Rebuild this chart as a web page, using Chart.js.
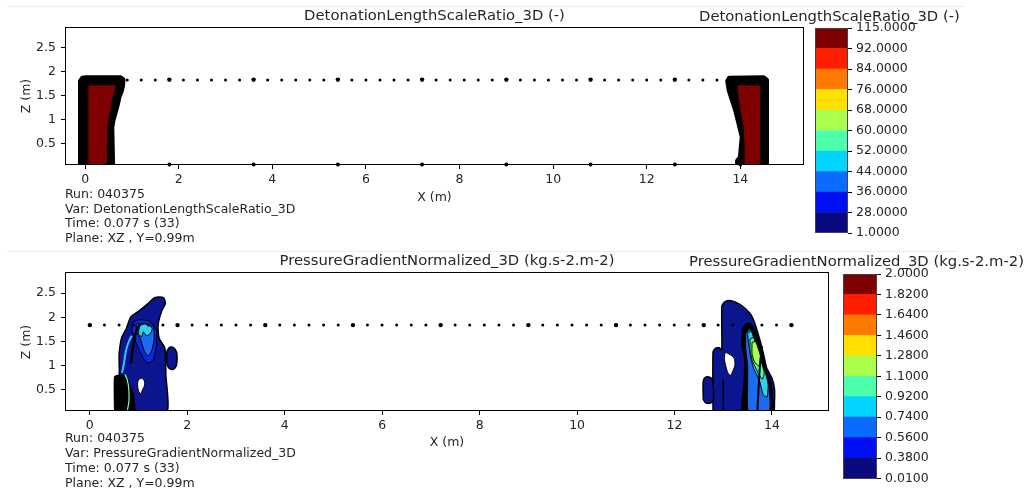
<!DOCTYPE html>
<html>
<head>
<meta charset="utf-8">
<script src="https://cdn.jsdelivr.net/npm/chart.js@4.4.0/dist/chart.umd.min.js"></script>
<style>
  body { margin: 0; background: #fff; }
  #page { position: relative; width: 1033px; height: 490px; overflow: hidden; font-family: 'DejaVu Sans', sans-serif; color: #262626; }
  #page canvas { position: absolute; }
  .txt { position: absolute; white-space: nowrap; line-height: 1.2; }
  .rule { position: absolute; height: 1px; background: #ececec; }
</style>
</head>
<body>
<div id="page">
  <div class="rule" style="left:7px;top:6px;width:958px"></div>
  <div class="rule" style="left:7px;top:251px;width:950px"></div>
  <canvas id="plotA" width="820" height="250" style="left:0;top:0"></canvas>
  <canvas id="barA" width="343" height="250" style="left:690px;top:0"></canvas>
  <canvas id="plotB" width="840" height="240" style="left:0;top:250px"></canvas>
  <canvas id="barB" width="343" height="240" style="left:690px;top:250px"></canvas>
</div>
<script>
// ---- data (x, z in metres) ----
const xTicks = [0, 2, 4, 6, 8, 10, 12, 14];
const zTicks = [0.5, 1, 1.5, 2, 2.5];

const titleA = 'DetonationLengthScaleRatio_3D (-)';
const titleB = 'PressureGradientNormalized_3D (kg.s-2.m-2)';
const infoA = ['Run: 040375', 'Var: DetonationLengthScaleRatio_3D', 'Time: 0.077 s (33)', 'Plane: XZ , Y=0.99m'];
const infoB = ['Run: 040375', 'Var: PressureGradientNormalized_3D', 'Time: 0.077 s (33)', 'Plane: XZ , Y=0.99m'];

const levelsA = ['1.0000', '28.0000', '36.0000', '44.0000', '52.0000', '60.0000', '68.0000', '76.0000', '84.0000', '92.0000', '115.0000'];
const levelsB = ['0.0100', '0.3800', '0.5600', '0.7400', '0.9200', '1.1000', '1.2800', '1.4600', '1.6400', '1.8200', '2.0000'];
const bandColors = ['#0a0a80', '#0010f5', '#0a6cff', '#00d4ff', '#4dffaa', '#aaff4d', '#ffe000', '#ff7800', '#ff1e00', '#7f0000'];

// probe line and probe markers
const probeXA = [1.8, 3.6, 5.4, 7.2, 9.0, 10.8, 12.6];
const floorXA = [1.8, 3.6, 5.4, 7.2, 9.0, 10.8, 12.6, 14.0];
const probeXB = [0, 1.8, 3.6, 5.4, 7.2, 9.0, 10.8, 12.6, 14.4];

// top plot contours
const outerLeftA = [[-0.11, 0], [-0.11, 1.80], [-0.06, 1.87], [0.02, 1.88], [0.76, 1.88], [0.82, 1.83], [0.81, 1.70], [0.78, 1.58], [0.73, 1.46], [0.71, 1.36], [0.68, 1.24], [0.64, 1.10], [0.60, 0.96], [0.58, 0.84], [0.60, 0]];
const innerLeftA = [[0.08, 0], [0.08, 1.70], [0.64, 1.70], [0.61, 1.55], [0.56, 1.40], [0.54, 1.24], [0.50, 1.06], [0.47, 0.86], [0.45, 0]];
const outerRightA = [[13.93, 0], [13.93, 0.15], [13.99, 0.22], [14.03, 0.64], [13.96, 0.92], [13.89, 1.19], [13.82, 1.40], [13.75, 1.61], [13.72, 1.80], [13.76, 1.87], [14.50, 1.88], [14.57, 1.82], [14.57, 0]];
const innerRightA = [[14.12, 0], [14.10, 0.50], [14.08, 0.85], [14.03, 1.12], [13.98, 1.40], [13.95, 1.70], [14.40, 1.70], [14.40, 0]];

// bottom plot contours, left group
const blobL = [[0.51, 0], [0.51, 0.77], [0.60, 0.80], [0.60, 1.22], [0.65, 1.57], [0.75, 1.77], [0.84, 2.01], [1.03, 2.15], [1.20, 2.29], [1.33, 2.41], [1.51, 2.41], [1.55, 2.29], [1.47, 2.12], [1.40, 1.84], [1.42, 1.57], [1.54, 1.36], [1.56, 0.80], [1.57, 0]];
const lobeL = [[1.58, 1.30], [1.64, 1.38], [1.72, 1.37], [1.78, 1.28], [1.79, 1.12], [1.77, 0.99], [1.70, 0.92], [1.62, 0.95], [1.58, 1.05]];
const holeL = [[0.99, 0.70], [1.06, 0.74], [1.12, 0.68], [1.12, 0.58], [1.08, 0.50], [1.05, 0.42], [1.00, 0.47], [0.98, 0.60]];
const blockL = [[0.51, 0], [0.51, 0.77], [0.56, 0.80], [0.70, 0.80], [0.78, 0.72], [0.84, 0.55], [0.90, 0.40], [0.92, 0.20], [0.92, 0]];
const blueL = [[0.88, 1.90], [1.02, 1.95], [1.22, 1.92], [1.36, 1.75], [1.36, 1.40], [1.30, 1.12], [1.20, 1.05], [1.10, 1.15], [1.00, 1.35], [0.92, 1.55], [0.86, 1.75]];
const dodgerL = [[0.95, 1.86], [1.12, 1.88], [1.30, 1.80], [1.32, 1.55], [1.26, 1.28], [1.18, 1.20], [1.10, 1.35], [1.04, 1.55], [0.96, 1.70]];
const cyanL = [[1.02, 1.84], [1.15, 1.86], [1.28, 1.78], [1.24, 1.66], [1.16, 1.62], [1.10, 1.70], [1.06, 1.60], [1.00, 1.66]];
const aquaLineL = [[0.76, 0.02], [0.80, 0.25], [0.80, 0.50], [0.77, 0.70], [0.72, 0.82]];
const cyanLineL = [[0.66, 0.85], [0.70, 1.05], [0.74, 1.30], [0.80, 1.50], [0.86, 1.62]];
const darkLineL = [[0.84, 1.05], [0.88, 1.35], [0.92, 1.60], [0.98, 1.78], [1.04, 1.86]];

// bottom plot contours, right group
const blobR = [[12.79, 0], [12.79, 1.28], [12.84, 1.36], [12.92, 1.37], [12.97, 1.32], [12.97, 2.22], [13.02, 2.31], [13.12, 2.35], [13.24, 2.32], [13.41, 2.22], [13.55, 2.08], [13.62, 1.95], [13.69, 1.74], [13.76, 1.50], [13.83, 1.22], [13.89, 0.95], [14.00, 0.74], [14.05, 0.53], [14.05, 0.25], [14.02, 0]];
const lobeR = [[12.59, 0.30], [12.59, 0.68], [12.64, 0.76], [12.72, 0.76], [12.78, 0.70], [12.80, 0.30], [12.75, 0.23], [12.64, 0.23]];
const holeR = [[13.04, 1.28], [13.12, 1.24], [13.22, 1.16], [13.24, 1.02], [13.20, 0.90], [13.15, 0.80], [13.09, 0.86], [13.05, 1.00], [13.02, 1.15]];
const blackR = [[13.40, 1.78], [13.48, 1.88], [13.58, 1.86], [13.66, 1.70], [13.74, 1.48], [13.81, 1.20], [13.87, 0.92], [13.96, 0.72], [14.00, 0.50], [14.00, 0.02], [13.40, 0.02], [13.42, 0.60], [13.44, 1.10], [13.38, 1.45]];
const dodgerR = [[13.46, 1.66], [13.54, 1.76], [13.62, 1.62], [13.70, 1.40], [13.77, 1.15], [13.83, 0.90], [13.92, 0.70], [13.95, 0.45], [13.94, 0.06], [13.52, 0.06], [13.50, 0.50], [13.50, 1.00], [13.46, 1.35]];
const cyanR = [[13.50, 1.66], [13.57, 1.72], [13.63, 1.56], [13.70, 1.30], [13.76, 1.05], [13.86, 0.86], [13.92, 0.62], [13.90, 0.35], [13.82, 0.40], [13.74, 0.70], [13.62, 0.95], [13.56, 1.20], [13.52, 1.45]];
const aquaR = [[13.55, 1.55], [13.62, 1.58], [13.70, 1.35], [13.78, 1.08], [13.84, 0.85], [13.80, 0.72], [13.70, 0.88], [13.60, 1.10], [13.55, 1.32]];
const ygR = [[13.59, 1.48], [13.66, 1.50], [13.73, 1.32], [13.78, 1.10], [13.72, 1.00], [13.64, 1.08], [13.59, 1.25]];
const darkLineR = [[13.70, 0.05], [13.72, 0.45], [13.74, 0.80], [13.76, 1.10], [13.80, 1.40]];
const seamR = [[13.00, 0], [13.00, 0.72]];

Chart.defaults.font.family = "'DejaVu Sans', sans-serif";
Chart.defaults.font.size = 12.5;
Chart.defaults.color = '#262626';

const BLOB = '#0b1590';

function toXY(points) {
  return points.map(p => ({ x: p[0], y: p[1] }));
}

// closed filled contour region
function region(points, fillColor, edgeColor, edgeWidth, tension) {
  return {
    data: toXY(points.concat([points[0]])),
    showLine: true,
    fill: 'shape',
    backgroundColor: fillColor,
    borderColor: edgeColor,
    borderWidth: edgeWidth,
    borderJoinStyle: 'round',
    tension: tension || 0,
    pointRadius: 0,
    clip: 0
  };
}

// open contour line
function stroke(points, color, width) {
  return {
    data: toXY(points),
    showLine: true,
    fill: false,
    borderColor: color,
    borderWidth: width,
    tension: 0.3,
    pointRadius: 0,
    clip: 0
  };
}

function dotted(x0, x1, z, gap) {
  return {
    data: [{ x: x0, y: z }, { x: x1, y: z }],
    showLine: true,
    fill: false,
    borderColor: '#000',
    borderWidth: 3,
    borderDash: [0, gap],
    borderCapStyle: 'round',
    pointRadius: 0,
    clip: false
  };
}

function markers(xs, z, r) {
  return {
    data: xs.map(x => ({ x: x, y: z })),
    showLine: false,
    pointRadius: r,
    pointBackgroundColor: '#000',
    pointBorderColor: '#000',
    pointBorderWidth: 0,
    clip: false
  };
}

// first in list = bottom layer
function layered(list) {
  return list.map((d, i) => Object.assign(d, { order: list.length - i }));
}

const framePlugin = {
  id: 'frame',
  afterDraw(chart, args, opts) {
    const a = chart.chartArea;
    const ctx = chart.ctx;
    ctx.save();
    ctx.strokeStyle = opts.color || '#000';
    ctx.lineWidth = 1;
    ctx.strokeRect(Math.round(a.left) + 0.5, Math.round(a.top) + 0.5, Math.round(a.right - a.left) - 1, Math.round(a.bottom - a.top) - 1);
    ctx.restore();
  }
};

function plotOptions(xMin, xMax, zMin, zMax, pad, yWidth, xHeight) {
  return {
    responsive: false,
    animation: false,
    events: [],
    layout: { padding: pad },
    plugins: { legend: { display: false }, tooltip: { enabled: false }, frame: { color: '#000' } },
    scales: {
      x: {
        type: 'linear', min: xMin, max: xMax,
        afterBuildTicks: s => { s.ticks = xTicks.map(v => ({ value: v })); },
        afterFit: s => { s.height = xHeight; },
        ticks: { padding: 3, maxRotation: 0, callback: v => String(v) },
        grid: { drawOnChartArea: false, drawTicks: true, tickLength: 4, color: '#000' },
        border: { display: false }
      },
      y: {
        type: 'linear', min: zMin, max: zMax,
        afterBuildTicks: s => { s.ticks = zTicks.map(v => ({ value: v })); },
        afterFit: s => { s.width = yWidth; },
        ticks: { padding: 5, callback: v => String(v) },
        grid: { drawOnChartArea: false, drawTicks: true, tickLength: 4, color: '#000' },
        border: { display: false }
      }
    }
  };
}

function colorbar(id, levels, pad, axisWidth) {
  new Chart(document.getElementById(id), {
    type: 'bar',
    data: {
      labels: [''],
      datasets: bandColors.map(c => ({ data: [1], backgroundColor: c, borderWidth: 0, barPercentage: 1, categoryPercentage: 1 }))
    },
    options: {
      responsive: false,
      animation: false,
      events: [],
      layout: { padding: pad },
      plugins: { legend: { display: false }, tooltip: { enabled: false }, frame: { color: '#444' } },
      scales: {
        x: { stacked: true, display: false },
        y: {
          stacked: true, position: 'right', min: 0, max: levels.length - 1,
          afterBuildTicks: s => { s.ticks = levels.map((l, i) => ({ value: i })); },
          afterFit: s => { s.width = axisWidth; },
          ticks: { padding: 4, callback: v => levels[v] },
          grid: { drawOnChartArea: false, drawTicks: true, tickLength: 4, color: '#000' },
          border: { display: false }
        }
      }
    },
    plugins: [framePlugin]
  });
}

// ---- top plot ----
new Chart(document.getElementById('plotA'), {
  type: 'scatter',
  data: {
    datasets: layered([
      dotted(0, 13.55, 1.82, 14.04),
      markers(probeXA, 1.83, 2.2),
      markers(floorXA, 0.07, 2),
      region(outerLeftA, '#000', '#000', 4),
      region(innerLeftA, '#7f0000', '#7f0000', 1),
      region(outerRightA, '#000', '#000', 4),
      region(innerRightA, '#7f0000', '#7f0000', 1)
    ])
  },
  options: plotOptions(-0.43, 15.36, 0.06, 2.92, { left: 0, top: 27, right: 16, bottom: 0 }, 65, 85),
  plugins: [framePlugin]
});

// ---- bottom plot ----
new Chart(document.getElementById('plotB'), {
  type: 'scatter',
  data: {
    datasets: layered([
      region(blobL, BLOB, '#000', 1.5, 0.2),
      region(lobeL, BLOB, '#000', 1.5, 0.3),
      region(holeL, '#fff', '#000', 1, 0.3),
      region(blockL, '#000', '#000', 1),
      stroke(aquaLineL, '#7dffa0', 1.2),
      stroke(cyanLineL, '#30c8f0', 2),
      region(blueL, '#0a28e0', '#000', 1, 0.2),
      region(dodgerL, '#1a6cf0', '#000', 1, 0.2),
      region(cyanL, '#30d0f0', '#000', 1, 0.2),
      stroke(darkLineL, '#000', 2.5),
      region(blobR, BLOB, '#000', 1.5, 0.2),
      region(lobeR, BLOB, '#000', 1.5, 0.3),
      region(holeR, '#fff', '#000', 1, 0.3),
      stroke(seamR, '#000', 1.5),
      region(blackR, '#000', '#000', 1, 0.2),
      region(dodgerR, '#1a6cf0', '#000', 1, 0.2),
      region(cyanR, '#30d0f0', '#000', 1, 0.2),
      region(aquaR, '#4dffaa', '#000', 1, 0.2),
      region(ygR, '#aaff4d', '#000', 1, 0.2),
      stroke(darkLineR, '#000', 2),
      dotted(0, 14.4, 1.84, 14.61),
      markers(probeXB, 1.84, 2.2)
    ])
  },
  options: plotOptions(-0.51, 15.17, 0.06, 2.94, { left: 0, top: 22, right: 11, bottom: 0 }, 65, 79),
  plugins: [framePlugin]
});

// ---- colour bars ----
colorbar('barA', levelsA, { left: 125, top: 28, right: 0, bottom: 17 }, 185);
colorbar('barB', levelsB, { left: 153, top: 24, right: 0, bottom: 11 }, 156);

// ---- text ----
const page = document.getElementById('page');
function label(text, x, y, size, align) {
  const el = document.createElement('div');
  el.className = 'txt';
  el.textContent = text;
  el.style.left = x + 'px';
  el.style.top = y + 'px';
  el.style.fontSize = size + 'px';
  el.style.transform = 'translate(' + (align === 'left' ? '0' : '-50%') + ',-50%)';
  page.appendChild(el);
}
function rotated(text, cx, cy, size) {
  const el = document.createElement('div');
  el.className = 'txt';
  el.textContent = text;
  el.style.left = cx + 'px';
  el.style.top = cy + 'px';
  el.style.fontSize = size + 'px';
  el.style.transform = 'translate(-50%,-50%) rotate(-90deg)';
  page.appendChild(el);
}

label(titleA, 434.5, 14.5, 14.8, 'center');
label(titleA, 699, 15.5, 14.8, 'left');
label(titleB, 447, 260, 14.8, 'center');
label(titleB, 689, 261, 14.8, 'left');
label('X (m)', 434.5, 196, 12.5, 'center');
label('X (m)', 447, 441, 12.5, 'center');
rotated('Z (m)', 25, 96, 12.5);
rotated('Z (m)', 25, 341.5, 12.5);
infoA.forEach((t, i) => label(t, 65, 192.7 + i * 14.8, 12.5, 'left'));
infoB.forEach((t, i) => label(t, 65, 436.7 + i * 15, 12.5, 'left'));
</script>
</body>
</html>
